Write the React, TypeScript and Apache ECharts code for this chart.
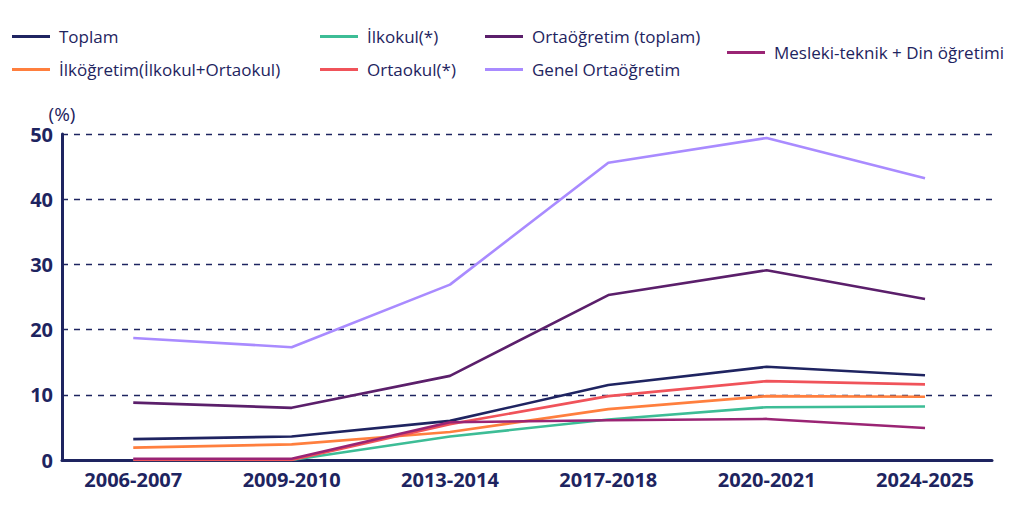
import React, { useEffect, useRef } from "react";
import * as echarts from "echarts";

const categories = ["2006-2007", "2009-2010", "2013-2014", "2017-2018", "2020-2021", "2024-2025"];
const yTicks = [0, 10, 20, 30, 40, 50];

const toplam = [3.2, 3.6, 6.0, 11.5, 14.3, 13.0];
const ilkogretim = [1.9, 2.4, 4.3, 7.8, 9.8, 9.7];
const ilkokul = [0.0, 0.0, 3.6, 6.2, 8.1, 8.2];
const ortaokul = [0.0, 0.0, 5.5, 9.8, 12.1, 11.6];
const ortaogretim = [8.8, 8.0, 12.9, 25.3, 29.1, 24.7];
const genel = [18.7, 17.3, 26.9, 45.6, 49.4, 43.2];
const mesleki = [0.2, 0.2, 5.8, 6.1, 6.3, 4.9];

const NAVY = "#1e2460";
const FONT = "'Open Sans', Lato, sans-serif";

const seriesDefs = [
  { name: "Toplam", data: toplam, color: "#1f2461" },
  { name: "İlköğretim(İlkokul+Ortaokul)", data: ilkogretim, color: "#ff7f3e" },
  { name: "İlkokul(*)", data: ilkokul, color: "#3dbd96" },
  { name: "Ortaokul(*)", data: ortaokul, color: "#f0535a" },
  { name: "Ortaöğretim (toplam)", data: ortaogretim, color: "#5b1f6b" },
  { name: "Genel Ortaöğretim", data: genel, color: "#a98bff" },
  { name: "Mesleki-teknik + Din öğretimi", data: mesleki, color: "#9a2474" },
];

const legendPos: Record<string, { left: number; top: number }> = {
  "Toplam": { left: 12, top: 28 },
  "İlköğretim(İlkokul+Ortaokul)": { left: 12, top: 61 },
  "İlkokul(*)": { left: 320, top: 28 },
  "Ortaokul(*)": { left: 320, top: 61 },
  "Ortaöğretim (toplam)": { left: 485, top: 28 },
  "Genel Ortaöğretim": { left: 485, top: 61 },
  "Mesleki-teknik + Din öğretimi": { left: 727, top: 44 },
};

export default function App() {
  const ref = useRef<HTMLDivElement>(null);
  useEffect(() => {
    if (!ref.current) return;
    const chart = echarts.init(ref.current, null, { renderer: "svg" });
    const option = {
      animation: false,
      backgroundColor: "#ffffff",
      textStyle: { fontFamily: FONT },
      legend: seriesDefs.map((s) => ({
        data: [s.name],
        left: legendPos[s.name].left,
        top: legendPos[s.name].top,
        icon: "rect",
        itemWidth: 38,
        itemHeight: 3,
        itemGap: 0,
        padding: 0,
        textStyle: { color: NAVY, fontSize: 17, fontFamily: FONT, padding: [0, 0, 0, 4] },
      })),
      grid: { left: 62, right: 32, top: 134, bottom: 52, containLabel: false },
      xAxis: {
        type: "value",
        min: -0.45,
        max: 5.423,
        axisLine: { show: true, onZero: false, lineStyle: { color: NAVY, width: 3 } },
        axisTick: { show: false },
        splitLine: { show: false },
        axisLabel: {
          customValues: categories.map((_, i) => i),
          formatter: (v: number) => categories[Math.round(v)] ?? "",
          color: NAVY,
          fontSize: 20,
          fontWeight: "bold",
          fontFamily: FONT,
          margin: 9,
        },
      },
      yAxis: {
        type: "value",
        min: 0,
        max: 50,
        interval: 10,
        name: "(%)",
        nameLocation: "end",
        nameGap: 11,
        nameTextStyle: { color: NAVY, fontSize: 19, fontFamily: FONT, align: "center" },
        axisLine: { show: true, onZero: false, lineStyle: { color: NAVY, width: 3 } },
        axisTick: { show: false },
        axisLabel: {
          color: NAVY,
          fontSize: 20,
          fontWeight: "bold",
          fontFamily: FONT,
          margin: 9,
          customValues: yTicks,
        },
        splitLine: {
          show: true,
          lineStyle: { color: NAVY, width: 1.3, type: [6, 6] },
        },
      },
      series: seriesDefs.map((s, idx) => ({
        name: s.name,
        type: "line",
        data: s.data.map((v, i) => [i, v]),
        showSymbol: false,
        symbol: "none",
        z: idx === 6 ? 3 : 2,
        lineStyle: { color: s.color, width: 2.6 },
        itemStyle: { color: s.color },
      })),
    };
    chart.setOption(option as any);
    return () => chart.dispose();
  }, []);
  return (
    <div
      ref={ref}
      style={{ position: "absolute", left: 0, top: 0, width: 1024, height: 512 }}
    />
  );
}
